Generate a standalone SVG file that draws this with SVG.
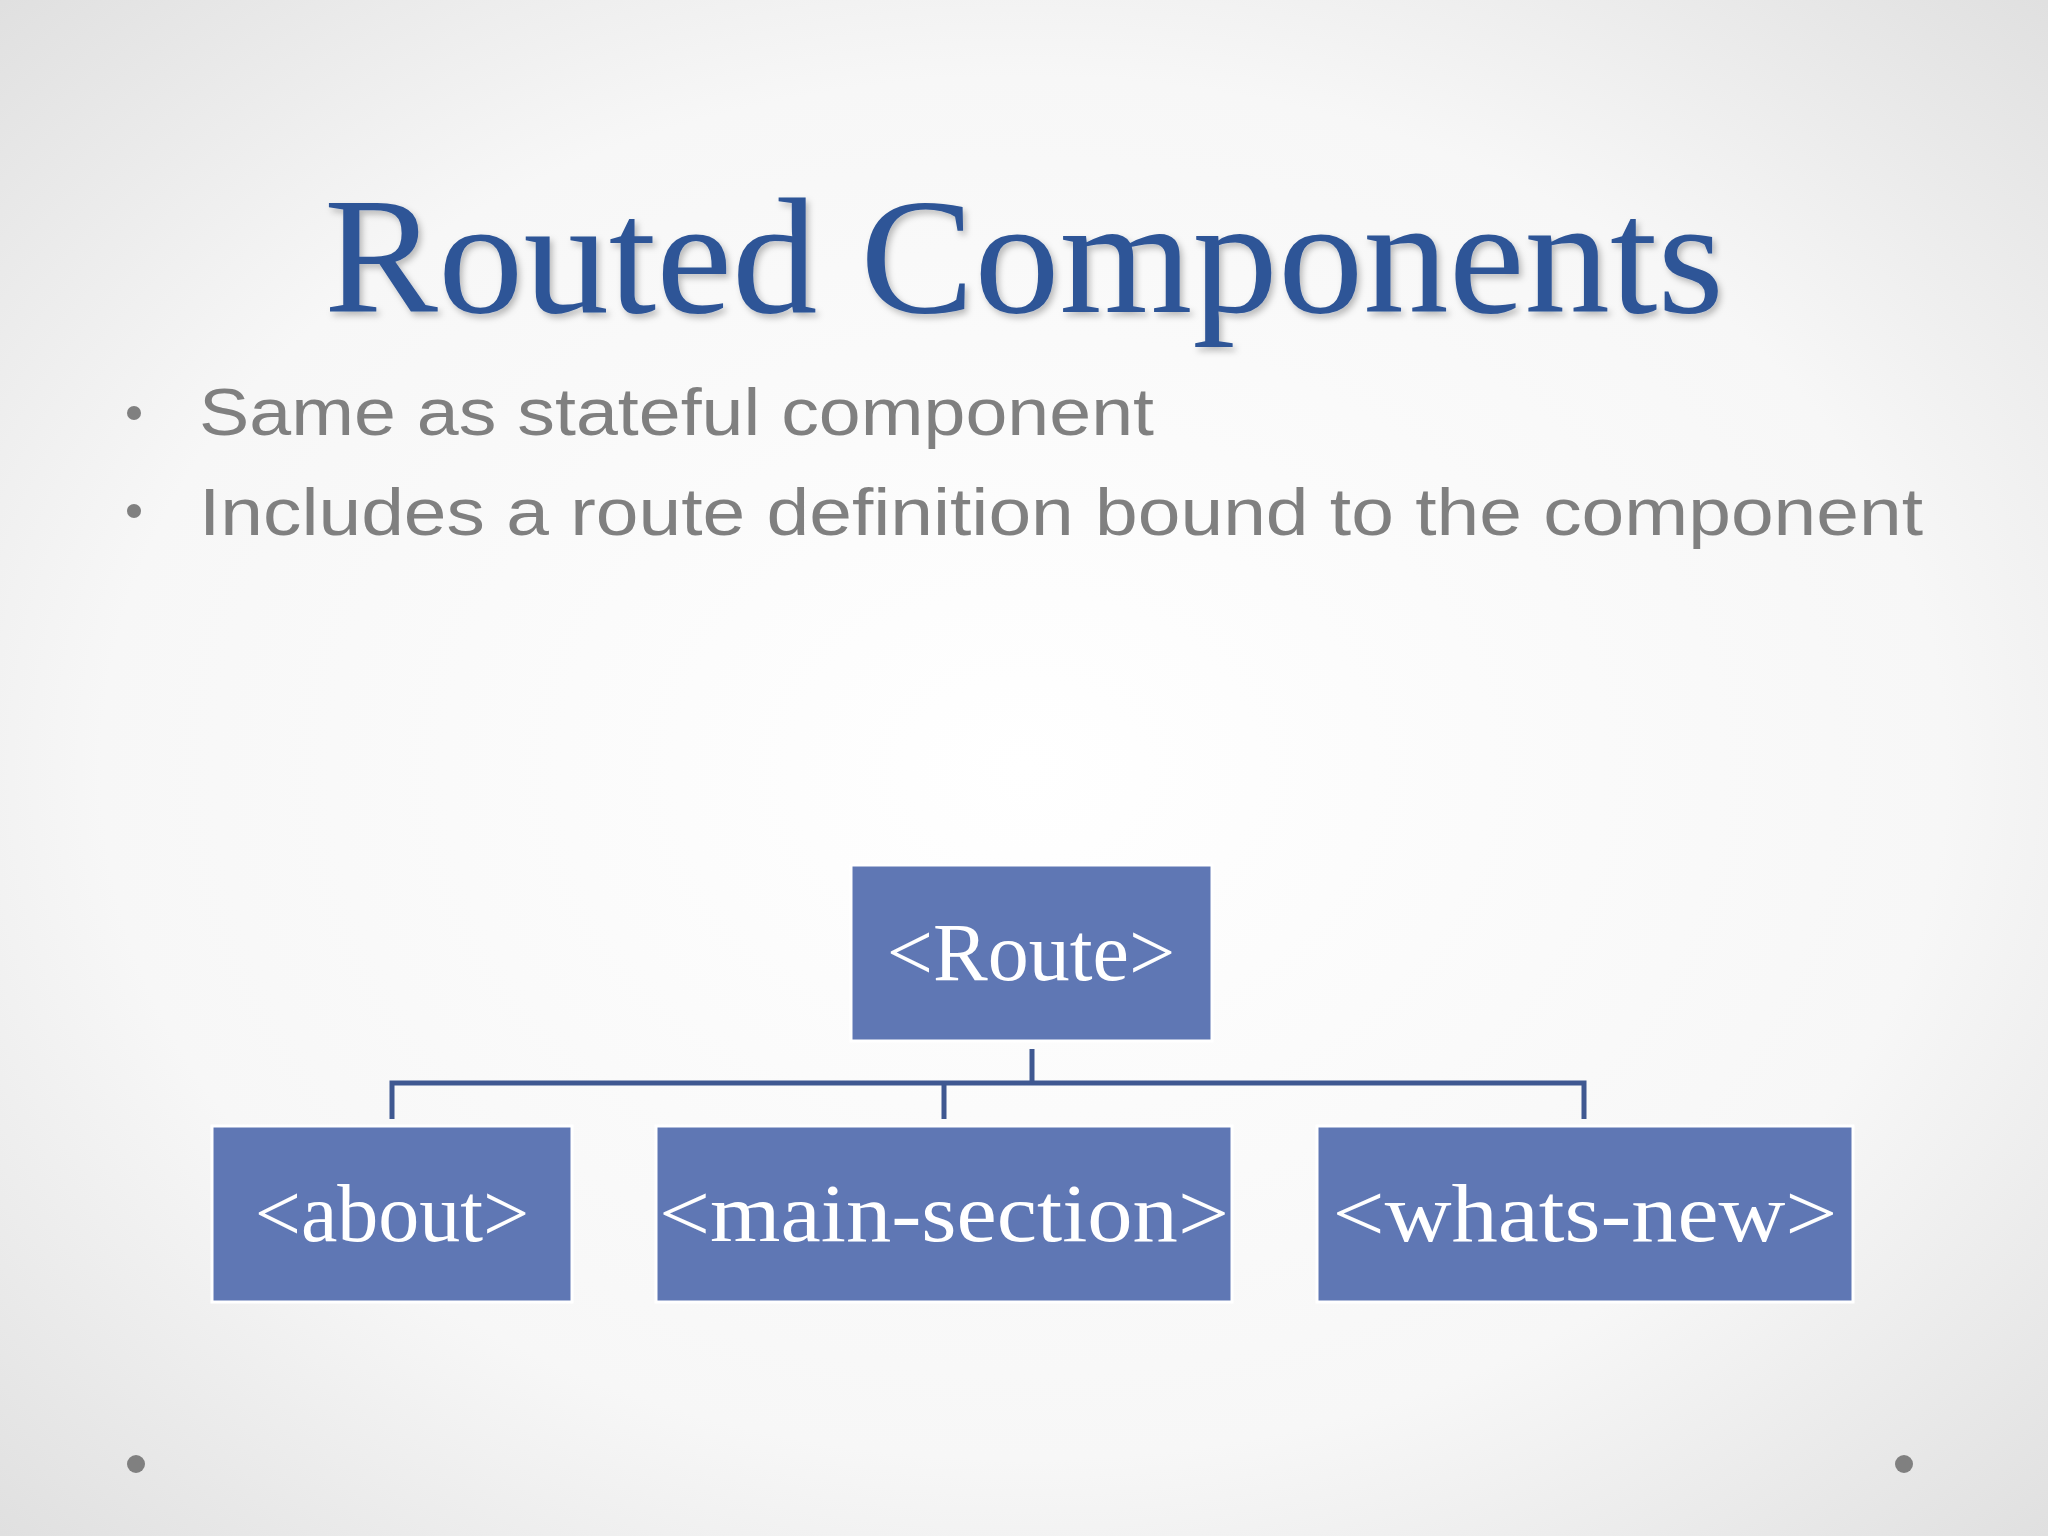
<svg xmlns="http://www.w3.org/2000/svg" width="2048" height="1536" viewBox="0 0 2048 1536">
<defs>
<radialGradient id="bg" cx="50%" cy="50%" r="75%">
<stop offset="0" stop-color="#ffffff"/><stop offset="0.6" stop-color="#f7f7f7"/><stop offset="1" stop-color="#dcdcdc"/>
</radialGradient>
<filter id="sh" x="-5%" y="-20%" width="110%" height="140%"><feDropShadow dx="3" dy="4" stdDeviation="3" flood-color="#000" flood-opacity="0.25"/></filter>
</defs>
<style>
.box{fill:#5F77B4;stroke:#ffffff;stroke-width:3}
.bt{font-family:"Liberation Serif",serif;font-size:82px;fill:#fff;text-anchor:middle}
.bul{font-family:"Liberation Sans",sans-serif;font-size:66px;fill:#808080}
.con{stroke:#3F5891;stroke-width:5;fill:none}
</style>
<rect width="2048" height="1536" fill="url(#bg)"/>
<text x="1024" y="312" text-anchor="middle" font-family="Liberation Serif,serif" font-size="165" fill="#2E5597" filter="url(#sh)" textLength="1400" lengthAdjust="spacingAndGlyphs">Routed Components</text>
<circle cx="134" cy="413" r="7" fill="#808080"/>
<circle cx="134" cy="511" r="7" fill="#808080"/>
<text class="bul" x="199" y="435" textLength="955" lengthAdjust="spacingAndGlyphs">Same as stateful component</text>
<text class="bul" x="199" y="535" textLength="1724" lengthAdjust="spacingAndGlyphs">Includes a route definition bound to the component</text>
<g id="connectors">
<path class="con" d="M1032,1049 V1083 M392,1119 V1083 H1584 V1119 M944,1083 V1119"/>
</g>
<g id="route"><rect class="box" x="851" y="865" width="361" height="176"/><text class="bt" x="1031" y="980">&lt;Route&gt;</text></g>
<g id="about"><rect class="box" x="212" y="1126" width="360" height="176"/><text class="bt" x="392" y="1241">&lt;about&gt;</text></g>
<g id="main-section"><rect class="box" x="656" y="1126" width="576" height="176"/><text class="bt" x="944" y="1241" textLength="570" lengthAdjust="spacingAndGlyphs">&lt;main-section&gt;</text></g>
<g id="whats-new"><rect class="box" x="1317" y="1126" width="536" height="176"/><text class="bt" x="1585" y="1241" textLength="505" lengthAdjust="spacingAndGlyphs">&lt;whats-new&gt;</text></g>
<circle cx="136" cy="1464" r="9" fill="#808080"/>
<circle cx="1904" cy="1464" r="9" fill="#808080"/>
</svg>
